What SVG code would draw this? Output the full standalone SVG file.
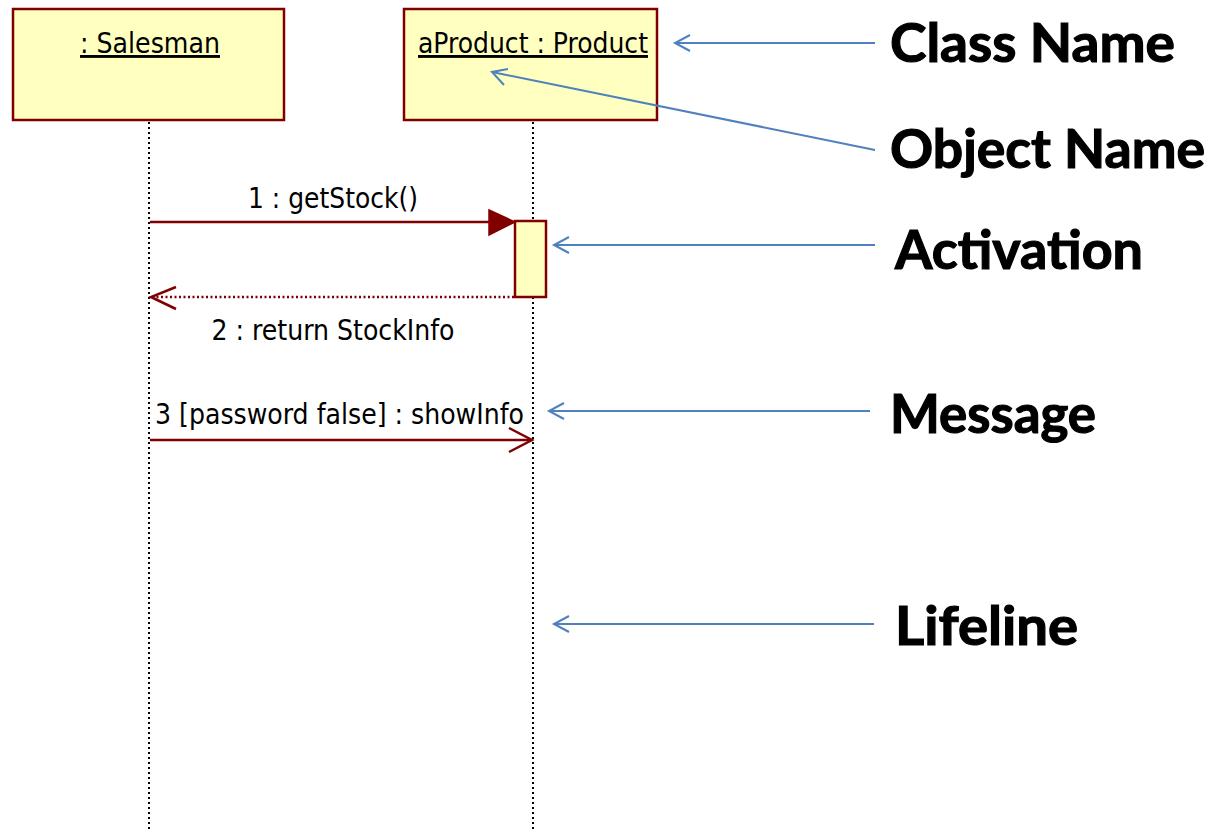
<svg xmlns="http://www.w3.org/2000/svg" width="1210" height="830" viewBox="0 0 1210 830">
  <style>
    .obj { fill: #FFFFC0; stroke: #800000; stroke-width: 2.5; }
    .lifeline { stroke: #000; stroke-width: 2; stroke-dasharray: 2 3; fill: none; }
    .msg { stroke: #800000; stroke-width: 2.5; fill: none; }
    .ret { stroke: #800000; stroke-width: 2.5; stroke-dasharray: 2 2.5; fill: none; }
    .head { stroke: #800000; stroke-width: 2.5; fill: none; }
    .note { stroke: #4F81BD; stroke-width: 2; fill: none; }
    .lbl { font-family: "DejaVu Sans Condensed", "DejaVu Sans", sans-serif; font-size: 29px; fill: #000; }
    .title { font-family: "DejaVu Sans Condensed", "DejaVu Sans", sans-serif; font-size: 29px; fill: #000; text-decoration: underline; }
    .call { font-family: Lato, "Open Sans", sans-serif; font-weight: bold; font-size: 54px; fill: #000; stroke: #000; stroke-width: 1.2; }
  </style>

  <!-- object heads -->
  <g id="salesman">
    <rect class="obj" x="13" y="9" width="271" height="111"/>
    <text class="title" x="150" y="53" text-anchor="middle" textLength="140" lengthAdjust="spacingAndGlyphs">: Salesman</text>
  </g>
  <g id="product">
    <rect class="obj" x="404" y="9" width="253" height="111"/>
    <text class="title" x="533" y="53" text-anchor="middle" textLength="230" lengthAdjust="spacingAndGlyphs">aProduct : Product</text>
  </g>

  <!-- lifelines -->
  <g id="lifelines">
    <line class="lifeline" x1="149" y1="122" x2="149" y2="830"/>
    <line class="lifeline" x1="533" y1="122" x2="533" y2="830"/>
  </g>

  <!-- activation bar on aProduct -->
  <g id="activation">
    <rect class="obj" x="515" y="221" width="31" height="76"/>
  </g>

  <!-- messages -->
  <g id="connectors">
    <line class="msg" x1="150" y1="222" x2="495" y2="222"/>
    <polygon points="489,210 515,222 489,235" fill="#800000" stroke="#800000" stroke-width="1.5"/>

    <line class="ret" x1="152" y1="297" x2="515" y2="297"/>
    <polyline class="head" points="176,287 151,297 176,309"/>

    <line class="msg" x1="150" y1="440" x2="532" y2="440"/>
    <polyline class="head" points="509,428 532,440 509,452"/>

    <!-- callout pointers -->
    <line class="note" x1="875" y1="43" x2="675" y2="43"/>
    <polyline class="note" points="690,35 675,43 690,51"/>

    <line class="note" x1="875" y1="150" x2="492" y2="72"/>
    <polyline class="note" points="508,69 492,72 504,85"/>

    <line class="note" x1="875" y1="245" x2="554" y2="245"/>
    <polyline class="note" points="569,237 554,245 569,253"/>

    <line class="note" x1="870" y1="411" x2="549" y2="411"/>
    <polyline class="note" points="564,403 549,411 564,419"/>

    <line class="note" x1="874" y1="624" x2="554" y2="624"/>
    <polyline class="note" points="569,616 554,624 569,632"/>
  </g>

  <!-- message labels -->
  <g id="message-labels">
    <text class="lbl" x="333" y="208" text-anchor="middle" textLength="170" lengthAdjust="spacingAndGlyphs">1 : getStock()</text>
    <text class="lbl" x="333" y="340" text-anchor="middle" textLength="243" lengthAdjust="spacingAndGlyphs">2 : return StockInfo</text>
    <text class="lbl" x="155" y="424" textLength="369" lengthAdjust="spacingAndGlyphs">3 [password false] : showInfo</text>
  </g>

  <!-- callout labels -->
  <g id="callouts">
    <text class="call" x="890" y="62" textLength="285" lengthAdjust="spacingAndGlyphs">Class Name</text>
    <text class="call" x="890" y="168" textLength="315" lengthAdjust="spacingAndGlyphs">Object Name</text>
    <text class="call" x="895" y="269" textLength="248" lengthAdjust="spacingAndGlyphs">Activation</text>
    <text class="call" x="890" y="433" textLength="206" lengthAdjust="spacingAndGlyphs">Message</text>
    <text class="call" x="895" y="645" textLength="183" lengthAdjust="spacingAndGlyphs">Lifeline</text>
  </g>
</svg>
